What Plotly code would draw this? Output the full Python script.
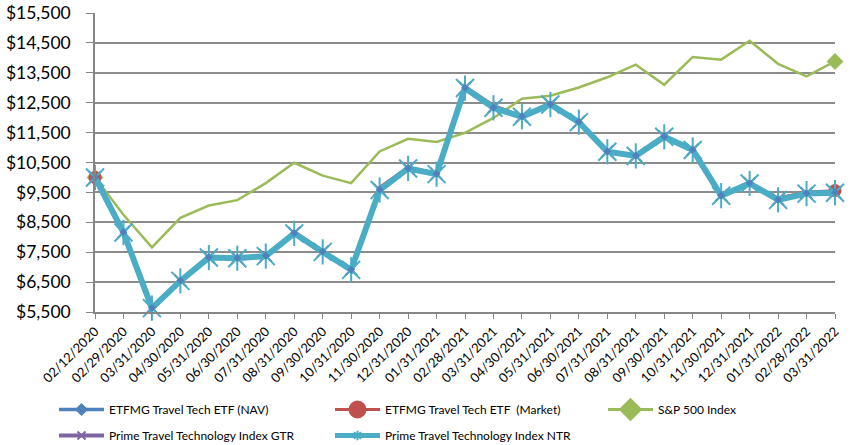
import plotly.graph_objects as go

dates = ["02/12/2020","02/29/2020","03/31/2020","04/30/2020","05/31/2020","06/30/2020",
         "07/31/2020","08/31/2020","09/30/2020","10/31/2020","11/30/2020","12/31/2020",
         "01/31/2021","02/28/2021","03/31/2021","04/30/2021","05/31/2021","06/30/2021",
         "07/31/2021","08/31/2021","09/30/2021","10/31/2021","11/30/2021","12/31/2021",
         "01/31/2022","02/28/2022","03/31/2022"]

nav = [10000, 8170, 5640, 6550, 7330, 7310, 7380, 8140, 7520, 6920, 9590, 10310,
       10120, 13000, 12340, 12040, 12450, 11860, 10870, 10730, 11370, 10930, 9400,
       9810, 9260, 9470, 9500]
market = [10000, 8190, 5650, 6560, 7340, 7320, 7390, 8200, 7560, 6960, 9680, 10350,
          10150, 13050, 12420, 12060, 12460, 11880, 10880, 10740, 11380, 10940, 9410,
          9820, 9320, 9520, 9560]
sp500 = [10000, 8750, 7660, 8650, 9060, 9240, 9810, 10490, 10060, 9810, 10870, 11290,
         11190, 11490, 11990, 12630, 12730, 13010, 13350, 13770, 13100, 14030, 13940,
         14570, 13800, 13380, 13880]
gtr = [10000, 8170, 5640, 6550, 7330, 7310, 7380, 8140, 7520, 6920, 9590, 10310,
       10120, 13000, 12340, 12040, 12450, 11860, 10870, 10730, 11370, 10930, 9400,
       9810, 9260, 9470, 9500]
ntr = [10000, 8160, 5630, 6540, 7320, 7300, 7370, 8130, 7510, 6910, 9580, 10300,
       10110, 12990, 12330, 12030, 12440, 11850, 10860, 10720, 11360, 10920, 9390,
       9800, 9250, 9460, 9490]

C_NAV = "#4F81BD"
C_MKT = "#C0504D"
C_SP = "#9BBB59"
C_GTR = "#8064A2"
C_NTR = "#4BACC6"

n = len(dates)
ends = [0, n - 1]

W, H = 850, 445

fig = go.Figure()

# S&P 500 line
fig.add_trace(go.Scatter(x=dates, y=sp500, mode="lines", line=dict(color=C_SP, width=2.5),
                         showlegend=False, cliponaxis=False))
fig.add_trace(go.Scatter(x=[dates[i] for i in ends], y=[sp500[i] for i in ends], mode="markers",
                         marker=dict(symbol="diamond", size=13, color=C_SP),
                         showlegend=False, cliponaxis=False))
# Market
fig.add_trace(go.Scatter(x=dates, y=market, mode="lines", line=dict(color=C_MKT, width=2.5),
                         showlegend=False, cliponaxis=False))
fig.add_trace(go.Scatter(x=[dates[i] for i in ends], y=[market[i] for i in ends], mode="markers",
                         marker=dict(symbol="circle", size=13, color=C_MKT),
                         showlegend=False, cliponaxis=False))
# NAV
fig.add_trace(go.Scatter(x=dates, y=nav, mode="lines", line=dict(color=C_NAV, width=2),
                         showlegend=False, cliponaxis=False))
# GTR
fig.add_trace(go.Scatter(x=dates, y=gtr, mode="lines+markers", line=dict(color=C_GTR, width=3),
                         marker=dict(symbol="x-thin-open", size=12, line=dict(color=C_GTR, width=2)),
                         showlegend=False, cliponaxis=False))
# NTR
fig.add_trace(go.Scatter(x=dates, y=ntr, mode="lines+markers", line=dict(color=C_NTR, width=6),
                         marker=dict(symbol="x-thin-open", size=18, color=C_NTR, line=dict(color=C_NTR, width=2)),
                         showlegend=False, cliponaxis=False))
fig.add_trace(go.Scatter(x=dates, y=ntr, mode="markers",
                         marker=dict(symbol="line-ns-open", size=18, color=C_NTR, line=dict(color=C_NTR, width=2)),
                         showlegend=False, cliponaxis=False))
# NAV diamonds on top
fig.add_trace(go.Scatter(x=dates, y=nav, mode="markers",
                         marker=dict(symbol="diamond", size=6, color=C_NAV),
                         showlegend=False, cliponaxis=False))

# Legend entries, each in its own legend box
leg = [
    ("ETFMG Travel Tech ETF (NAV)", C_NAV, 3.5, "diamond", 8, 54, 395),
    ("ETFMG Travel Tech ETF  (Market)", C_MKT, 3, "circle", 16, 330, 395),
    ("S&P 500 Index", C_SP, 3, "diamond", 16, 603, 395),
    ("Prime Travel Technology Index GTR", C_GTR, 4, "x-thin-open", 8, 54, 421),
    ("Prime Travel Technology Index NTR", C_NTR, 5, "asterisk-open", 8, 330, 421),
]
legend_layouts = {}
for k, (name, col, w, sym, sz, lx, ly) in enumerate(leg):
    lname = "legend" if k == 0 else f"legend{k + 1}"
    fig.add_trace(go.Scatter(x=[None], y=[None], mode="lines+markers", name=name,
                             line=dict(color=col, width=w),
                             marker=dict(symbol=sym, size=sz, color=col, line=dict(color=col, width=2)),
                             showlegend=True, legend=lname))
    legend_layouts[lname] = dict(orientation="h", xref="container", yref="container",
                                 x=lx / W, y=1 - ly / H, xanchor="left", yanchor="top",
                                 font=dict(size=12, family="Lato, sans-serif"),
                                 itemwidth=45, bgcolor="rgba(0,0,0,0)")

fig.update_layout(
    width=W, height=H,
    margin=dict(l=95, r=15, t=13, b=133, autoexpand=False),
    paper_bgcolor="white", plot_bgcolor="white",
    font=dict(family="Lato, Open Sans, sans-serif", color="#000000"),
    xaxis=dict(type="category", categoryorder="array", categoryarray=dates,
               range=[0, n - 1], tickangle=-45, tickfont=dict(size=13),
               showgrid=False, showline=True, linecolor="#868686", linewidth=1.5,
               ticks="outside", ticklen=5, tickcolor="#868686", zeroline=False,
               automargin=False, ticklabeloverflow="allow"),
    yaxis=dict(range=[5500, 15500], dtick=1000, tick0=5500, tickformat="$,",
               tickfont=dict(size=17.5), showgrid=True, gridcolor="#8C8C8C", gridwidth=1.5,
               showline=True, linecolor="#868686", linewidth=1.5,
               ticks="outside", ticklen=7, tickcolor="#868686",
               ticklabelstandoff=12, zeroline=False, automargin=False,
               ticklabeloverflow="allow"),
    **legend_layouts,
)

fig.write_html("out.html", config={"displayModeBar": False},
               post_script="document.body.style.margin='0';")
